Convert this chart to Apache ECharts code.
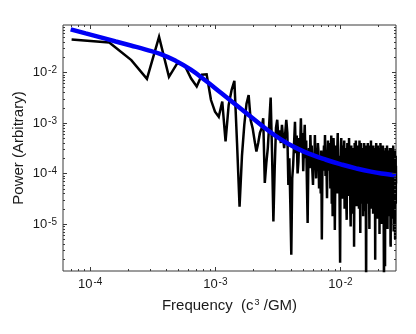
<!DOCTYPE html>
<html><head><meta charset="utf-8">
<script src="https://cdn.jsdelivr.net/npm/echarts@6/dist/echarts.min.js"></script>
<style>html,body{margin:0;padding:0;background:#fff}#c{width:416px;height:334px}</style>
</head><body><div id="c"></div>
<script>
// Frequency grid spacing of the spectrum (c^3/GM); point k sits at k * freqStep
const freqStep = 7.1e-5;
// log10 of the black power spectrum, k = 1..392
const blackLogPower = [
-1.35,-1.41,-1.76,-2.13,-1.30,-2.09,-1.82,-1.86,-2.12,-2.28,
-2.05,-2.04,-2.55,-2.78,-2.88,-2.58,-3.37,-2.65,-2.35,-2.17,
-3.40,-4.66,-3.65,-3.04,-2.62,-2.45,-2.95,-3.11,-3.35,-3.57,
-3.40,-3.20,-3.11,-2.91,-4.19,-3.80,-3.50,-3.00,-2.50,-3.60,
-4.95,-3.90,-3.10,-2.94,-3.30,-3.15,-3.40,-3.04,-3.30,-3.50,
-3.20,-2.94,-3.20,-4.23,-3.70,-4.60,-5.61,-4.10,-3.83,-3.40,
-2.98,-3.60,-3.25,-4.00,-3.77,-3.30,-3.55,-2.91,-3.50,-3.20,
-3.96,-3.45,-3.04,-3.70,-3.35,-4.20,-4.98,-3.80,-3.50,-3.90,
-3.24,-3.70,-3.45,-3.95,-4.23,-3.60,-3.85,-3.24,-3.75,-4.10,
-3.50,-3.85,-3.40,-3.57,-4.30,-3.65,-3.90,-4.40,-3.55,-5.31,
-4.00,-3.60,-3.95,-3.45,-3.80,-3.24,-4.05,-3.60,-3.90,-4.49,
-3.70,-3.35,-3.85,-3.44,
-3.95,-3.40,-4.30,-3.70,-3.25,-4.60,-3.85,-4.85,-4.10,-3.30,-3.60,-3.90,-5.12,-4.20,-3.45,-3.75,-4.40,-4.05,-3.50,-3.20,
-3.80,-4.40,-3.65,-3.95,-4.90,-5.77,-4.20,-3.55,-3.30,-4.05,-3.70,-4.50,-3.45,-3.90,-4.25,-3.60,-3.35,-4.70,-3.85,-4.00,
-3.50,-4.30,-4.60,-4.92,-3.75,-3.40,-4.10,-3.65,-3.95,-4.45,-3.30,-3.85,-4.20,-3.55,-4.75,-5.05,-3.90,-3.45,-4.15,-3.70,
-4.35,-3.60,-4.05,-4.80,-3.50,-3.85,-5.45,-4.30,-3.40,-3.75,-4.55,-3.95,-3.35,-4.10,-3.70,-4.65,-3.55,-4.00,-4.40,-3.80,
-3.45,-4.25,-3.90,-4.70,-3.60,-3.35,-4.05,-4.50,-5.18,-4.00,-3.65,-3.40,-4.30,-3.85,-4.60,-3.55,-3.95,-4.35,-3.70,-4.85,
-3.50,-4.10,-3.80,-3.40,-4.45,-3.90,-4.75,-3.60,-4.15,-3.45,-4.95,-6.30,-4.40,-3.75,-3.55,-4.20,-3.85,-4.60,-3.40,-4.05,
-3.70,-4.30,-3.50,-3.95,-4.55,-5.10,-3.80,-3.45,-4.15,-3.65,-4.40,-3.90,-3.35,-4.70,-4.00,-3.60,-4.25,-3.85,-4.50,-3.55,
-4.10,-3.75,-4.80,-3.45,-3.95,-4.35,-3.65,-4.60,-3.50,-4.05,-3.80,-4.45,-5.71,-4.20,-3.55,-3.90,-4.65,-3.40,-4.15,-3.85,
-4.50,-3.60,-4.00,-4.90,-3.70,-3.45,-4.30,-3.95,-4.75,-3.55,-4.10,-3.85,-4.40,-3.50,-5.20,-4.05,-3.65,-4.55,-3.90,-3.40,
-4.25,-3.75,-4.60,-3.60,-4.05,-5.00,-3.80,-3.50,-4.35,-3.95,-4.70,-3.65,-4.15,-3.45,-4.50,-3.85,-4.00,-4.80,-5.60,-6.30,
-4.60,-3.70,-3.95,-4.40,-3.55,-5.84,-4.25,-3.80,-4.65,-3.50,-4.10,-3.90,-4.45,-3.60,-4.95,-3.75,-4.20,-3.45,-4.55,-3.85,
-5.10,-4.00,-3.65,-4.35,-3.90,-4.70,-3.55,-4.15,-3.80,-4.50,-3.60,-4.85,-4.05,-3.70,-4.30,-3.50,-4.60,-3.95,-4.25,-5.38,
-5.45,-4.10,-3.75,-4.40,-3.60,-4.65,-3.85,-4.20,-3.50,-4.90,-3.95,-4.35,-3.65,-4.55,-3.80,-4.05,-4.75,-3.45,-4.25,-3.90,
-5.15,-4.15,-3.70,-4.50,-3.60,-4.85,-3.95,-4.30,-3.55,-4.70,-5.30,-4.00,-3.75,-4.45,-3.65,-4.60,-3.85,-4.20
];
// blue model curve: frequencies and log10 power
const blueFreq = [6.98e-5,9.2e-5,1.213e-4,1.60e-4,2.11e-4,2.78e-4,3.66e-4,4.83e-4,6.37e-4,8.39e-4,1.107e-3,1.459e-3,
                  1.923e-3,2.535e-3,3.34e-3,4.41e-3,5.81e-3,7.66e-3,1.009e-2,1.33e-2,1.754e-2,2.31e-2,2.78e-2];
const blueLogPower = [-1.150,-1.231,-1.310,-1.391,-1.470,-1.551,-1.641,-1.775,-1.949,-2.168,-2.405,-2.642,
                      -2.879,-3.117,-3.328,-3.496,-3.625,-3.731,-3.822,-3.901,-3.966,-4.014,-4.040];
// axis ranges and tick decades
const xRange = [6.06e-5, 2.78e-2];
const yRange = [1.17e-6, 0.0861];
const xTickExponents = [-5,-4,-3,-2];
const yTickExponents = [-7,-6,-5,-4,-3,-2];

const FONT = 'Liberation Sans';
const TXT = '#1a1a1a';
const FRAME = '#3a3a3a';

const blackData = blackLogPower.map((v, i) => [(i + 1) * freqStep, Math.pow(10, v)]);
const blueData = blueFreq.map((f, i) => [f, Math.pow(10, blueLogPower[i])]);

const tickItems = [];
xTickExponents.forEach(e => { for (let m = 1; m <= 9; m++) { const v = m * Math.pow(10, e); if (v >= xRange[0] && v <= xRange[1]) tickItems.push([v, 1e-3, 0, m === 1 ? 1 : 0]); } });
yTickExponents.forEach(e => { for (let m = 1; m <= 9; m++) { const v = m * Math.pow(10, e); if (v >= yRange[0] && v <= yRange[1]) tickItems.push([1e-3, v, 1, m === 1 ? 1 : 0]); } });

function powLabel(value) {
  const e = Math.log10(value);
  const r = Math.round(e);
  if (Math.abs(e - r) > 0.01) return '';
  return '{base|10}{sup|' + r + '}';
}
const labelRich = {
  base: { fontSize: 13, fontFamily: FONT, color: TXT, verticalAlign: 'bottom' },
  sup: { fontSize: 10, fontFamily: FONT, color: TXT, verticalAlign: 'bottom', padding: [0, 0, 4, 1] }
};

const chart = echarts.init(document.getElementById('c'), null, { renderer: 'canvas' });
chart.setOption({
  animation: false,
  backgroundColor: '#fff',
  grid: { left: 63, right: 20, top: 25, bottom: 63, containLabel: false, outerBoundsMode: 'none',
          show: true, borderColor: FRAME, borderWidth: 1, backgroundColor: 'transparent' },
  xAxis: {
    type: 'log', logBase: 10, min: xRange[0], max: xRange[1],
    axisLine: { show: false }, axisTick: { show: false }, splitLine: { show: false },
    minorTick: { show: false }, minorSplitLine: { show: false },
    axisLabel: { formatter: powLabel, rich: labelRich, margin: 6, fontSize: 13, fontFamily: FONT, color: TXT,
                 showMinLabel: false, showMaxLabel: false, hideOverlap: false },
    name: '{base|Frequency  (c}{sup|3}{base| /GM)}', nameLocation: 'middle', nameGap: 27, nameMoveOverlap: false,
    nameTextStyle: { fontSize: 15, fontFamily: FONT, color: TXT,
      rich: { base: { fontSize: 15, fontFamily: FONT, color: TXT, verticalAlign: 'bottom' },
              sup: { fontSize: 9, fontFamily: FONT, color: TXT, verticalAlign: 'bottom', padding: [0, 0, 6, 1] } } }
  },
  yAxis: {
    type: 'log', logBase: 10, min: yRange[0], max: yRange[1],
    axisLine: { show: false }, axisTick: { show: false }, splitLine: { show: false },
    minorTick: { show: false }, minorSplitLine: { show: false },
    axisLabel: { formatter: powLabel, rich: labelRich, margin: 6, fontSize: 13, fontFamily: FONT, color: TXT,
                 showMinLabel: false, showMaxLabel: false, hideOverlap: false },
    name: 'Power (Arbitrary)', nameLocation: 'middle', nameGap: 37, nameRotate: 90, nameMoveOverlap: false,
    nameTextStyle: { fontSize: 15, fontFamily: FONT, color: TXT }
  },
  series: [
    { type: 'line', data: blackData, showSymbol: false, symbol: 'none', clip: true, silent: true,
      lineStyle: { color: '#000', width: 2.5, join: 'miter', miterLimit: 4 }, z: 2 },
    { type: 'line', data: blueData, showSymbol: false, symbol: 'none', smooth: true, clip: true, silent: true,
      lineStyle: { color: '#0000f5', width: 4.5, cap: 'butt' }, z: 3 },
    { type: 'custom', data: tickItems, silent: true, z: 5, clip: false,
      encode: { x: 0, y: 1 },
      renderItem: function (params, api) {
        const cs = params.coordSys;
        const isY = api.value(2) === 1;
        const len = api.value(3) === 1 ? 4 : 2;
        const style = { stroke: FRAME, lineWidth: 1 };
        if (!isY) {
          const px = Math.round(api.coord([api.value(0), api.value(1)])[0]) + 0.5;
          const b = cs.y + cs.height, t = cs.y;
          return { type: 'group', children: [
            { type: 'line', shape: { x1: px, y1: b, x2: px, y2: b - len }, style: style },
            { type: 'line', shape: { x1: px, y1: t, x2: px, y2: t + len }, style: style } ] };
        } else {
          const py = Math.round(api.coord([api.value(0), api.value(1)])[1]) + 0.5;
          const l = cs.x, r = cs.x + cs.width;
          return { type: 'group', children: [
            { type: 'line', shape: { x1: l, y1: py, x2: l + len, y2: py }, style: style },
            { type: 'line', shape: { x1: r, y1: py, x2: r - len, y2: py }, style: style } ] };
        }
      }
    }
  ]
});
</script></body></html>
